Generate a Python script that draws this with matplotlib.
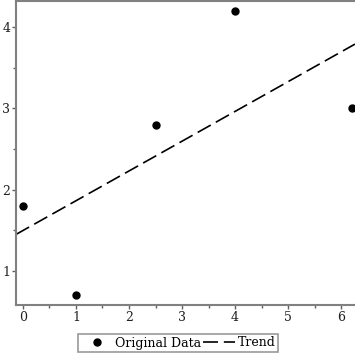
import matplotlib.pyplot as plt
import numpy as np

# data
x_data = [0, 1, 2.5, 4, 6.2]
y_data = [1.8, 0.7, 2.8, 4.2, 3.0]
x_ticks = [0, 1, 2, 3, 4, 5, 6]
y_ticks = [1, 2, 3, 4]

plt.rcParams['font.family'] = 'DejaVu Serif'

fig = plt.figure(figsize=(3.55, 3.55), dpi=100)
ax = fig.add_axes([16 / 355, 50 / 355, 339 / 355, 304 / 355])

# least squares trend line
slope, intercept = np.polyfit(x_data, y_data, 1)
xl = np.array([-0.13, 6.26])
ax.plot(xl, slope * xl + intercept, color='black', lw=1.2, dashes=(9, 3.5), label='Trend')
ax.plot(x_data, y_data, 'o', color='black', ms=5, label='Original Data', zorder=3)

ax.set_xlim(-0.13, 6.26)
ax.set_ylim(0.58, 4.32)
ax.set_xticks(x_ticks)
ax.set_yticks(y_ticks)
ax.set_xticks(np.arange(0.5, 6.5, 1), minor=True)
ax.set_yticks(np.arange(1.5, 4.5, 1), minor=True)
ax.tick_params(labelsize=9, length=3, width=1, color='#606060', labelcolor='#202020', pad=1)
ax.tick_params(which='minor', length=2, width=1, color='#606060')

for s in ['left', 'bottom', 'top']:
    ax.spines[s].set_color('#808080')
    ax.spines[s].set_linewidth(1.5)
ax.spines['right'].set_visible(False)

h, l = ax.get_legend_handles_labels()
leg = fig.legend(h[::-1], l[::-1], loc='center', bbox_to_anchor=(178 / 355, 12 / 355), ncol=2,
                 fontsize=9, frameon=True, fancybox=False, handlelength=2.6,
                 columnspacing=0.1, handletextpad=0.2, borderpad=0.2, borderaxespad=0)
leg.get_frame().set_edgecolor('#808080')
leg.get_frame().set_linewidth(1.2)

fig.savefig('out.png', dpi=100)
